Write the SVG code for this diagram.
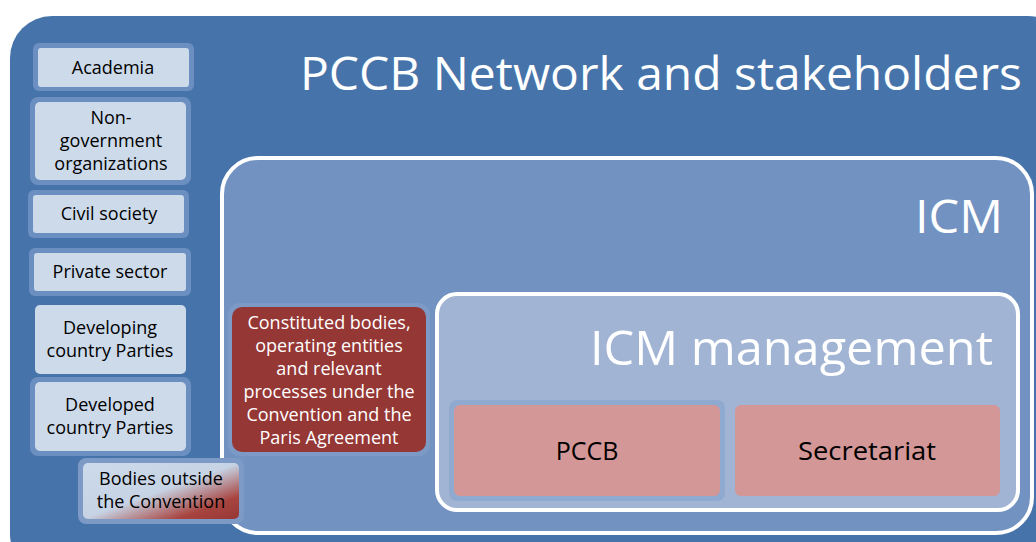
<svg xmlns="http://www.w3.org/2000/svg" width="1036" height="542" viewBox="0 0 1036 542">
<defs>
<linearGradient id="bodGrad" x1="0" y1="0" x2="1" y2="1">
<stop offset="0" stop-color="#CCDAEA"/>
<stop offset="0.5" stop-color="#C6D3E4"/>
<stop offset="0.8" stop-color="#A8443F"/>
<stop offset="1" stop-color="#953735"/>
</linearGradient>
<style>
.halo{fill:#6C8FC2;}
.lbox{fill:#CCDAEA;}
.lt{font-family:"Open Sans","Noto Sans",sans-serif;font-size:18px;fill:#000;text-anchor:middle;}
.wt{font-family:"Open Sans","Noto Sans",sans-serif;font-size:18px;fill:#fff;text-anchor:middle;}
.mt{font-family:"Open Sans","Noto Sans",sans-serif;font-size:25px;fill:#000;text-anchor:middle;}
.big{font-family:"Open Sans","Noto Sans",sans-serif;fill:#fff;}
.pink{fill:#D39797;}
</style>
</defs>
<rect width="1036" height="542" fill="#ffffff"/>
<g id="network">
<rect x="10" y="16" width="1060" height="560" rx="42" fill="#4674AA"/>
<text class="big" x="1022" y="90" font-size="46" text-anchor="end" textLength="722" lengthAdjust="spacingAndGlyphs">PCCB Network and stakeholders</text>
</g>
<g id="icm">
<rect x="222" y="158" width="810" height="375" rx="36" fill="#7293C2" stroke="#ffffff" stroke-width="4"/>
<text class="big" x="1003" y="233" font-size="46" text-anchor="end" textLength="88" lengthAdjust="spacingAndGlyphs">ICM</text>
</g>
<g id="icm-management">
<rect x="437" y="294" width="581" height="216" rx="20" fill="#A1B4D4" stroke="#ffffff" stroke-width="4"/>
<text class="big" x="993" y="365" font-size="48" text-anchor="end" textLength="403" lengthAdjust="spacingAndGlyphs">ICM management</text>
</g>
<g id="pccb">
<rect x="449" y="400" width="276" height="101" rx="8" fill="#90A9CF"/>
<rect x="454" y="405" width="266" height="91" rx="6" class="pink"/>
<text class="mt" x="587" y="460">PCCB</text>
</g>
<g id="secretariat">
<rect x="735" y="405" width="265" height="91" rx="6" class="pink"/>
<text class="mt" x="867" y="460" textLength="138" lengthAdjust="spacingAndGlyphs">Secretariat</text>
</g>
<g id="constituted">
<rect x="228" y="303" width="202" height="153" rx="12" fill="#7D9AC7"/>
<rect x="232" y="307" width="194" height="145" rx="10" fill="#953735"/>
<text class="wt" x="329" y="329">Constituted bodies,</text>
<text class="wt" x="329" y="352">operating entities</text>
<text class="wt" x="329" y="375">and relevant</text>
<text class="wt" x="329" y="398">processes under the</text>
<text class="wt" x="329" y="421">Convention and the</text>
<text class="wt" x="329" y="444">Paris Agreement</text>
</g>
<g id="academia">
<rect x="33" y="43" width="161" height="48" rx="6" class="halo"/>
<rect x="38" y="48" width="151" height="39" rx="3" class="lbox"/>
<text class="lt" x="113" y="74">Academia</text>
</g>
<g id="ngo">
<rect x="30" y="97" width="161" height="88" rx="8" class="halo"/>
<rect x="35" y="102" width="151" height="78" rx="5" class="lbox"/>
<text class="lt" x="111" y="124">Non-</text>
<text class="lt" x="111" y="147">government</text>
<text class="lt" x="111" y="170">organizations</text>
</g>
<g id="civil">
<rect x="28" y="190" width="161" height="48" rx="6" class="halo"/>
<rect x="33" y="195" width="151" height="38" rx="3" class="lbox"/>
<text class="lt" x="109" y="220">Civil society</text>
</g>
<g id="private">
<rect x="29" y="248" width="162" height="48" rx="6" class="halo"/>
<rect x="34" y="253" width="152" height="38" rx="3" class="lbox"/>
<text class="lt" x="110" y="278">Private sector</text>
</g>
<g id="developing">
<rect x="35" y="305" width="151" height="69" rx="5" class="lbox"/>
<text class="lt" x="110" y="334">Developing</text>
<text class="lt" x="110" y="357">country Parties</text>
</g>
<g id="developed">
<rect x="30" y="377" width="161" height="79" rx="8" class="halo"/>
<rect x="35" y="382" width="151" height="69" rx="5" class="lbox"/>
<text class="lt" x="110" y="411">Developed</text>
<text class="lt" x="110" y="434">country Parties</text>
</g>
<g id="bodies-outside">
<rect x="78" y="458" width="166" height="66" rx="8" fill="#7D9AC7"/>
<rect x="83" y="463" width="156" height="56" rx="5" fill="url(#bodGrad)"/>
<text class="lt" x="161" y="485">Bodies outside</text>
<text class="lt" x="161" y="508">the Convention</text>
</g>
<g id="connectors"></g>
</svg>
